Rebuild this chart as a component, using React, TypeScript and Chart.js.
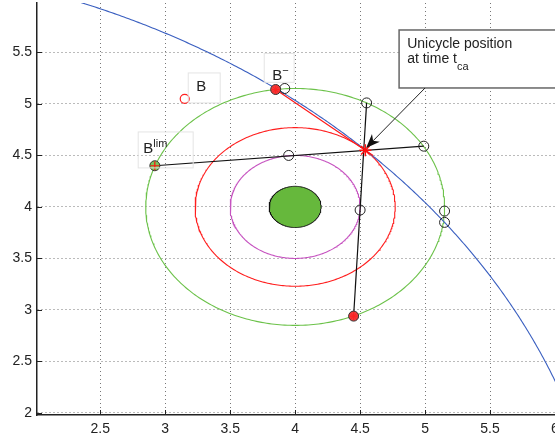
import React, { useEffect, useRef } from "react";
import { Chart, registerables } from "chart.js";
Chart.register(...registerables);

const FONT = "'Liberation Sans', Arial, Helvetica, sans-serif";

// Axes
const X_RANGE = [2.013, 6.0];
const Y_RANGE = [1.98, 5.98];
const X_TICKS = [2.5, 3, 3.5, 4, 4.5, 5, 5.5, 6];
const Y_TICKS = [2, 2.5, 3, 3.5, 4, 4.5, 5, 5.5];

// Geometry
const TARGET_CENTER = [4, 4];
const DISK_RADIUS = 0.2;
const MAGENTA_RADIUS = 0.5;
const RED_RADIUS = 0.77;
const GREEN_RADIUS = 1.15;
const PATH_CENTER = [0, 0];
const PATH_RADIUS = 6.43;

// Marked points
const B_POINT = [3.15, 5.05];
const B_MINUS = [3.85, 5.14];
const B_LIM = [2.92, 4.4];
const UNICYCLE_TCA = [4.54, 4.55];
const LOW_POINT = [4.45, 2.94];
const OPEN_X = [3.92, 3.95, 4.5, 4.55, 4.99, 5.15, 5.15];
const OPEN_Y = [5.15, 4.5, 3.97, 5.01, 4.59, 3.96, 3.85];

// Segments
const SEG1_X = [2.92, 4.99];
const SEG1_Y = [4.4, 4.59];
const SEG2_X = [4.45, 4.55];
const SEG2_Y = [2.94, 5.01];
const RED_SEG_X = [3.85, 4.54, 4.6];
const RED_SEG_Y = [5.14, 4.55, 4.5];

// Labels (data coords)
const LABEL_B = [3.277, 5.175];
const LABEL_BMINUS = [3.823, 5.233];
const LABEL_BLIM = [2.831, 4.524];
const BOX_B = [3.177, 5.301, 3.423, 5.01];
const BOX_BMINUS = [3.762, 5.49, 3.992, 5.21];
const BOX_BLIM = [2.792, 4.728, 3.215, 4.379];
const ANNOT_BOX = [4.8, 5.718, 6.3, 5.155];
const ANNOT_TEXT = [4.862, 5.545];
const ARROW_FROM = [5.0, 5.155];
const ARROW_TO = [4.546, 4.573];

function circle(c: number[], r: number, n = 360) {
  const pts: { x: number; y: number }[] = [];
  for (let i = 0; i <= n; i++) {
    const t = (i / n) * Math.PI * 2;
    pts.push({ x: c[0] + r * Math.cos(t), y: c[1] + r * Math.sin(t) });
  }
  return pts;
}
const zip = (xs: number[], ys: number[]) => xs.map((x, i) => ({ x, y: ys[i] }));

const decorPlugin = {
  id: "decor",
  afterDraw(chart: any) {
    const { ctx, scales } = chart;
    const X = (v: number) => scales.x.getPixelForValue(v);
    const Y = (v: number) => scales.y.getPixelForValue(v);
    const area = chart.chartArea;
    ctx.save();
    // inward ticks
    ctx.strokeStyle = "#222";
    ctx.lineWidth = 1;
    X_TICKS.forEach((v) => {
      const x = Math.round(X(v)) + 0.5;
      ctx.beginPath();
      ctx.moveTo(x, area.bottom);
      ctx.lineTo(x, area.bottom - 5);
      ctx.stroke();
    });
    Y_TICKS.forEach((v) => {
      const y = Math.round(Y(v)) + 0.5;
      ctx.beginPath();
      ctx.moveTo(area.left, y);
      ctx.lineTo(area.left + 5, y);
      ctx.stroke();
    });
    // faint label boxes
    ctx.strokeStyle = "#e4e4e4";
    [BOX_B, BOX_BMINUS, BOX_BLIM].forEach((b) => {
      ctx.strokeRect(X(b[0]), Y(b[1]), X(b[2]) - X(b[0]), Y(b[3]) - Y(b[1]));
    });
    // labels
    ctx.fillStyle = "#222";
    ctx.textBaseline = "alphabetic";
    ctx.font = `15px ${FONT}`;
    ctx.textAlign = "center";
    ctx.fillText("B", X(LABEL_B[0]), Y(LABEL_B[1]) + 5);
    ctx.textAlign = "left";
    ctx.fillText("B", X(LABEL_BMINUS[0]), Y(LABEL_BMINUS[1]));
    const bw = ctx.measureText("B").width;
    ctx.font = `11px ${FONT}`;
    ctx.fillText("\u2212", X(LABEL_BMINUS[0]) + bw, Y(LABEL_BMINUS[1]) - 6);
    ctx.font = `15px ${FONT}`;
    ctx.fillText("B", X(LABEL_BLIM[0]), Y(LABEL_BLIM[1]));
    ctx.font = `11px ${FONT}`;
    ctx.fillText("lim", X(LABEL_BLIM[0]) + bw, Y(LABEL_BLIM[1]) - 6);

    // annotation box
    const bx = X(ANNOT_BOX[0]), by = Y(ANNOT_BOX[1]);
    ctx.fillStyle = "#fff";
    ctx.fillRect(bx, by, X(ANNOT_BOX[2]) - bx, Y(ANNOT_BOX[3]) - by);
    ctx.strokeStyle = "#666";
    ctx.lineWidth = 1.5;
    ctx.strokeRect(bx, by, X(ANNOT_BOX[2]) - bx, Y(ANNOT_BOX[3]) - by);
    ctx.fillStyle = "#222";
    ctx.font = `14px ${FONT}`;
    const tx = X(ANNOT_TEXT[0]), ty = Y(ANNOT_TEXT[1]);
    ctx.fillText("Unicycle position", tx, ty);
    ctx.fillText("at time t", tx, ty + 15);
    const tw = ctx.measureText("at time t").width;
    ctx.font = `11px ${FONT}`;
    ctx.fillText("ca", tx + tw, ty + 22);

    // arrow
    const x0 = X(ARROW_FROM[0]), y0 = Y(ARROW_FROM[1]);
    const x1 = X(ARROW_TO[0]), y1 = Y(ARROW_TO[1]);
    const ang = Math.atan2(y1 - y0, x1 - x0);
    const L = 14, W = 5.5, back = 10;
    ctx.strokeStyle = "#222";
    ctx.lineWidth = 1;
    ctx.beginPath();
    ctx.moveTo(x0, y0);
    ctx.lineTo(x1 - Math.cos(ang) * back, y1 - Math.sin(ang) * back);
    ctx.stroke();
    const c = Math.cos(ang), s = Math.sin(ang);
    ctx.fillStyle = "#111";
    ctx.beginPath();
    ctx.moveTo(x1, y1);
    ctx.lineTo(x1 - c * L - s * W, y1 - s * L + c * W);
    ctx.lineTo(x1 - c * back, y1 - s * back);
    ctx.lineTo(x1 - c * L + s * W, y1 - s * L - c * W);
    ctx.closePath();
    ctx.fill();
    ctx.restore();
  },
};

export default function App() {
  const ref = useRef<HTMLCanvasElement>(null);
  useEffect(() => {
    const line = (data: any, color: string, width = 1, extra: any = {}) => ({
      type: "scatter",
      data,
      showLine: true,
      borderColor: color,
      borderWidth: width,
      pointRadius: 0,
      fill: false,
      ...extra,
    });
    const chart = new Chart(ref.current as HTMLCanvasElement, {
      type: "scatter",
      data: {
        datasets: [
          { data: [{ x: UNICYCLE_TCA[0], y: UNICYCLE_TCA[1] }], pointStyle: "star", pointRadius: 6, borderColor: "#ff1010", borderWidth: 1.5, order: 1 },
          { data: [{ x: B_MINUS[0], y: B_MINUS[1] }, { x: LOW_POINT[0], y: LOW_POINT[1] }], pointStyle: "star", pointRadius: 4, borderColor: "#ff2020", borderWidth: 1, order: 2 },
          { data: [{ x: B_LIM[0], y: B_LIM[1] }], pointStyle: "cross", pointRadius: 4.5, borderColor: "#ff1010", borderWidth: 1.2, order: 2 },
          { data: [{ x: B_MINUS[0], y: B_MINUS[1] }, { x: LOW_POINT[0], y: LOW_POINT[1] }], pointStyle: "circle", pointRadius: 5, backgroundColor: "#f03a3a", borderColor: "#333", borderWidth: 1, order: 3 },
          { data: [{ x: B_LIM[0], y: B_LIM[1] }], pointStyle: "circle", pointRadius: 5, backgroundColor: "#79c45a", borderColor: "#333", borderWidth: 1, order: 3 },
          { data: zip(OPEN_X, OPEN_Y), pointStyle: "circle", pointRadius: 5, backgroundColor: "rgba(0,0,0,0)", borderColor: "#222", borderWidth: 1, order: 4 },
          { data: [{ x: B_POINT[0], y: B_POINT[1] }], pointStyle: "circle", pointRadius: 4.5, backgroundColor: "rgba(0,0,0,0)", borderColor: "#ff2020", borderWidth: 1.2, order: 4 },
          line(zip(SEG1_X, SEG1_Y), "#111", 1.2, { order: 5 }),
          line(zip(SEG2_X, SEG2_Y), "#111", 1.2, { order: 5 }),
          line(zip(RED_SEG_X, RED_SEG_Y), "#ff1a1a", 1.2, { order: 6 }),
          line(circle(PATH_CENTER, PATH_RADIUS, 2000), "#3a5fc0", 1.1, { order: 7 }),
          line(circle(TARGET_CENTER, DISK_RADIUS), "#111", 1, { order: 8, fill: "shape", backgroundColor: "#66b83c" }),
          line(circle(TARGET_CENTER, MAGENTA_RADIUS), "#c653c0", 1.1, { order: 9 }),
          line(circle(TARGET_CENTER, RED_RADIUS), "#ff1e1e", 1.1, { order: 10 }),
          line(circle(TARGET_CENTER, GREEN_RADIUS), "#6cc24a", 1.1, { order: 11 }),
        ] as any,
      },
      options: {
        animation: false,
        responsive: false,
        devicePixelRatio: 1,
        layout: { autoPadding: false, padding: { top: 3, left: 0, right: 0, bottom: 0 } },
        plugins: { legend: { display: false }, tooltip: { enabled: false } },
        scales: {
          x: {
            type: "linear",
            min: X_RANGE[0],
            max: X_RANGE[1],
            afterBuildTicks: (s: any) => { s.ticks = X_TICKS.map((v) => ({ value: v })); },
            afterFit: (s: any) => { s.height = 27; s.paddingLeft = 0; s.paddingRight = 0; },
            ticks: { font: { family: FONT, size: 14 }, color: "#222", padding: 6, maxRotation: 0, autoSkip: false, callback: (v: any) => String(v) },
            grid: { color: "#777", lineWidth: 1, drawTicks: false },
            border: { display: true, color: "#222", width: 1.5, dash: [1, 3] },
          },
          y: {
            type: "linear",
            min: Y_RANGE[0],
            max: Y_RANGE[1],
            afterBuildTicks: (s: any) => { s.ticks = Y_TICKS.map((v) => ({ value: v })); },
            afterFit: (s: any) => { s.width = 37; s.paddingTop = 0; s.paddingBottom = 0; },
            ticks: { font: { family: FONT, size: 14 }, color: "#222", padding: 5, autoSkip: false, callback: (v: any) => String(v) },
            grid: { color: "#777", lineWidth: 1, drawTicks: false },
            border: { display: true, color: "#222", width: 1.5, dash: [1, 3] },
          },
        },
      } as any,
      plugins: [decorPlugin],
    });
    return () => chart.destroy();
  }, []);
  return (
    <div style={{ position: "absolute", left: 0, top: 0, width: 555, height: 442, background: "#fff" }}>
      <canvas ref={ref} width={555} height={442} style={{ display: "block" }} />
    </div>
  );
}
